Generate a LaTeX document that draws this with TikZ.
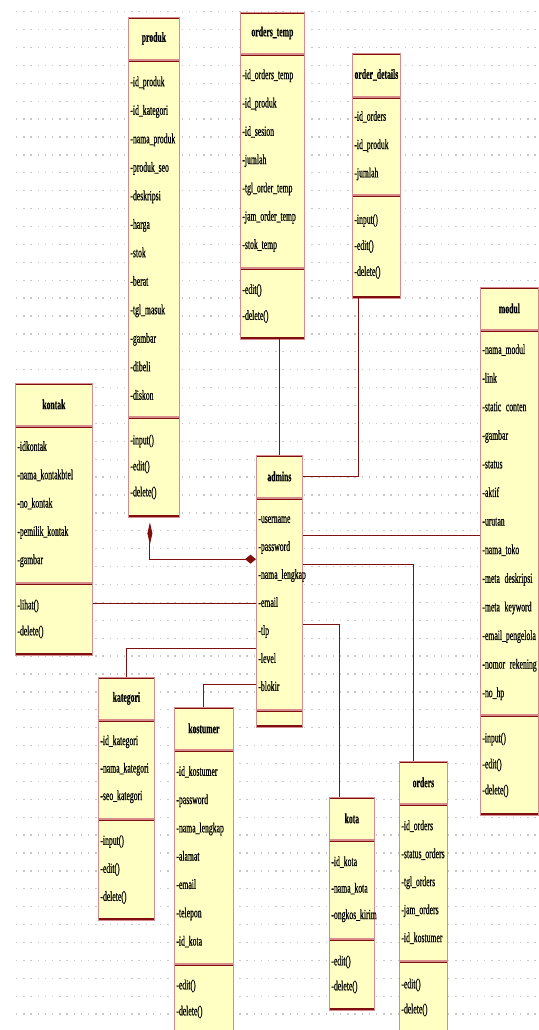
\documentclass[tikz,border=0pt]{standalone}
\usepackage{fontspec}
\newfontfamily\umlfont[FakeStretch=0.55,FakeBold=0.5]{Liberation Serif}
\usetikzlibrary{arrows.meta,positioning}
\definecolor{umlred}{RGB}{128,16,16}
\definecolor{umlpink}{RGB}{214,140,140}
\definecolor{umlfill}{RGB}{255,255,196}
\definecolor{griddot}{RGB}{200,200,200}
\hyphenpenalty=10000
\exhyphenpenalty=10000

\begin{document}
\begin{tikzpicture}[x=1pt,y=-1pt]
\tikzset{
  clsbox/.style={draw=umlpink,fill=umlfill,line width=0.8pt,inner xsep=2pt,inner ysep=0pt,
    font=\umlfont\fontsize{14}{28.3}\selectfont,
    path picture={\draw[umlred,line width=3.6pt] (path picture bounding box.north west) -- (path picture bounding box.north east);}},
  clsname/.style={clsbox,anchor=north west,align=center,font=\umlfont\bfseries\fontsize{14}{15}\selectfont},
  clsattr/.style={clsbox,align=left,below=0pt of #1},
  clsops/.style={clsbox,align=left,below=0pt of #1,font=\umlfont\fontsize{14}{26}\selectfont,
    path picture={\draw[umlred,line width=3.6pt] (path picture bounding box.north west) -- (path picture bounding box.north east)
      (path picture bounding box.south west) -- (path picture bounding box.south east);}},
  assoc/.style={umlred,line width=1pt},
  griddots/.style={griddot,line width=1.3pt,dash pattern=on 1.3pt off 5.9pt}
}
\fill[white] (0,0) rectangle (538,1030);
\useasboundingbox (0,0) rectangle (538,1030);
% dotted background
\foreach \r in {0,...,57}
  \draw[griddots] (16,{11.7+17.9*\r}) -- (538,{11.7+17.9*\r});

% produk
\node[clsname,text width=47pt,minimum height=42pt] (produk) at (128,17) {produk};
\node[clsattr=produk,text width=47pt,minimum height=356pt,font=\umlfont\fontsize{14}{28.5}\selectfont] (produk_attr) {-id\_produk\\-id\_kategori\\-nama\_produk\\-produk\_seo\\-deskripsi\\-harga\\-stok\\-berat\\-tgl\_masuk\\-gambar\\-dibeli\\-diskon};
\node[clsops=produk_attr,text width=47pt,minimum height=100pt] (produk_ops) {-input()\\-edit()\\-delete()};

% orders_temp
\node[clsname,text width=60pt,minimum height=41pt] (orders_temp) at (240,12) {orders\_temp};
\node[clsattr=orders_temp,text width=60pt,minimum height=213pt] (orders_temp_attr) {-id\_orders\_temp\\-id\_produk\\-id\_sesion\\-jumlah\\-tgl\_order\_temp\\-jam\_order\_temp\\-stok\_temp};
\node[clsops=orders_temp_attr,text width=60pt,minimum height=71pt] (orders_temp_ops) {-edit()\\-delete()};

% order_details
\node[clsname,text width=44pt,minimum height=43pt] (order_details) at (352,53) {order\_details};
\node[clsattr=order_details,text width=44pt,minimum height=97pt] (order_details_attr) {-id\_orders\\-id\_produk\\-jumlah};
\node[clsops=order_details_attr,text width=44pt,minimum height=103pt] (order_details_ops) {-input()\\-edit()\\-delete()};

% kontak
\node[clsname,text width=73pt,minimum height=42pt] (kontak) at (15,383) {kontak};
\node[clsattr=kontak,text width=73pt,minimum height=156pt] (kontak_attr) {-idkontak\\-nama\_kontakbtel\\-no\_kontak\\-pemilik\_kontak\\-gambar};
\node[clsops=kontak_attr,text width=73pt,minimum height=72pt] (kontak_ops) {-lihat()\\-delete()};

% admins
\node[clsname,text width=42pt,minimum height=42pt] (admins) at (256,455) {admins};
\node[clsattr=admins,text width=42pt,minimum height=211pt,font=\umlfont\fontsize{14}{28}\selectfont] (admins_attr) {-username\\-password\\-nama\_lengkap\\-email\\-tlp\\-level\\-blokir};
\node[clsops=admins_attr,text width=42pt,minimum height=17pt] (admins_ops) {};

% modul
\node[clsname,text width=54pt,minimum height=42pt] (modul) at (480,287) {modul};
\node[clsattr=modul,text width=54pt,minimum height=384pt,font=\umlfont\fontsize{14}{28.6}\selectfont] (modul_attr) {-nama\_modul\\-link\\-static~conten\\-gambar\\-status\\-aktif\\-urutan\\-nama\_toko\\-meta~deskripsi\\-meta~keyword\\-email\_pengelola\\-nomor~rekening\\-no\_hp};
\node[clsops=modul_attr,text width=54pt,minimum height=100pt] (modul_ops) {-input()\\-edit()\\-delete()};

% kategori
\node[clsname,text width=52pt,minimum height=42pt] (kategori) at (98,677) {kategori};
\node[clsattr=kategori,text width=52pt,minimum height=98pt,font=\umlfont\fontsize{14}{27.5}\selectfont] (kategori_attr) {-id\_kategori\\-nama\_kategori\\-seo\_kategori};
\node[clsops=kategori_attr,text width=52pt,minimum height=101pt,font=\umlfont\fontsize{14}{28}\selectfont] (kategori_ops) {-input()\\-edit()\\-delete()};

% kostumer
\node[clsname,text width=55pt,minimum height=42pt] (kostumer) at (174,707) {kostumer};
\node[clsattr=kostumer,text width=55pt,minimum height=213pt] (kostumer_attr) {-id\_kostumer\\-password\\-nama\_lengkap\\-alamat\\-email\\-telepon\\-id\_kota};
\node[clsops=kostumer_attr,text width=55pt,minimum height=70pt] (kostumer_ops) {-edit()\\-delete()};

% kota
\node[clsname,text width=41pt,minimum height=42pt] (kota) at (329,797) {kota};
\node[clsattr=kota,text width=41pt,minimum height=98pt,font=\umlfont\fontsize{14}{26.5}\selectfont] (kota_attr) {-id\_kota\\-nama\_kota\\-ongkos\_kirim};
\node[clsops=kota_attr,text width=41pt,minimum height=71pt,font=\umlfont\fontsize{14}{25}\selectfont] (kota_ops) {-edit()\\-delete()};

% orders
\node[clsname,text width=44pt,minimum height=42pt] (orders) at (399,761) {orders};
\node[clsattr=orders,text width=44pt,minimum height=156pt,font=\umlfont\fontsize{14}{28}\selectfont] (orders_attr) {-id\_orders\\-status\_orders\\-tgl\_orders\\-jam\_orders\\-id\_kostumer};
\node[clsops=orders_attr,text width=44pt,minimum height=73pt,font=\umlfont\fontsize{14}{25}\selectfont] (orders_ops) {-edit()\\-delete()};

% connectors
\coordinate (a_produk) at ([yshift=44.5pt]admins_attr.west);
\coordinate (a_kategori) at ([yshift=-44.5pt]admins_attr.west);
\coordinate (a_kostumer) at ([yshift=-80.5pt]admins_attr.west);
\coordinate (a_modul) at ([yshift=68.5pt]admins_attr.east);
\coordinate (a_orders) at ([yshift=39.5pt]admins_attr.east);
\coordinate (a_kota) at ([yshift=-20.5pt]admins_attr.east);
\draw[assoc] (admins.north) -- (admins.north |- orders_temp_ops.south);
\draw[assoc] ([xshift=-18pt]order_details_ops.south) |- (admins.east);
\draw[assoc,{Diamond[length=22pt,width=5pt]}-{Diamond[length=11pt,width=9pt]}] ([xshift=-4pt,yshift=-5pt]produk_ops.south) |- (a_produk);
\draw[assoc] (admins_attr.west) -- (admins_attr.west -| kontak_ops.east);
\draw[assoc] (kategori.north) |- (a_kategori);
\draw[assoc] (kostumer.north) |- (a_kostumer);
\draw[assoc] (a_modul) -- (a_modul -| modul_attr.west);
\draw[assoc] (a_orders) -| ([xshift=-10pt]orders.north);
\draw[assoc] (a_kota) -| ([xshift=-12pt]kota.north);
\end{tikzpicture}
\end{document}
